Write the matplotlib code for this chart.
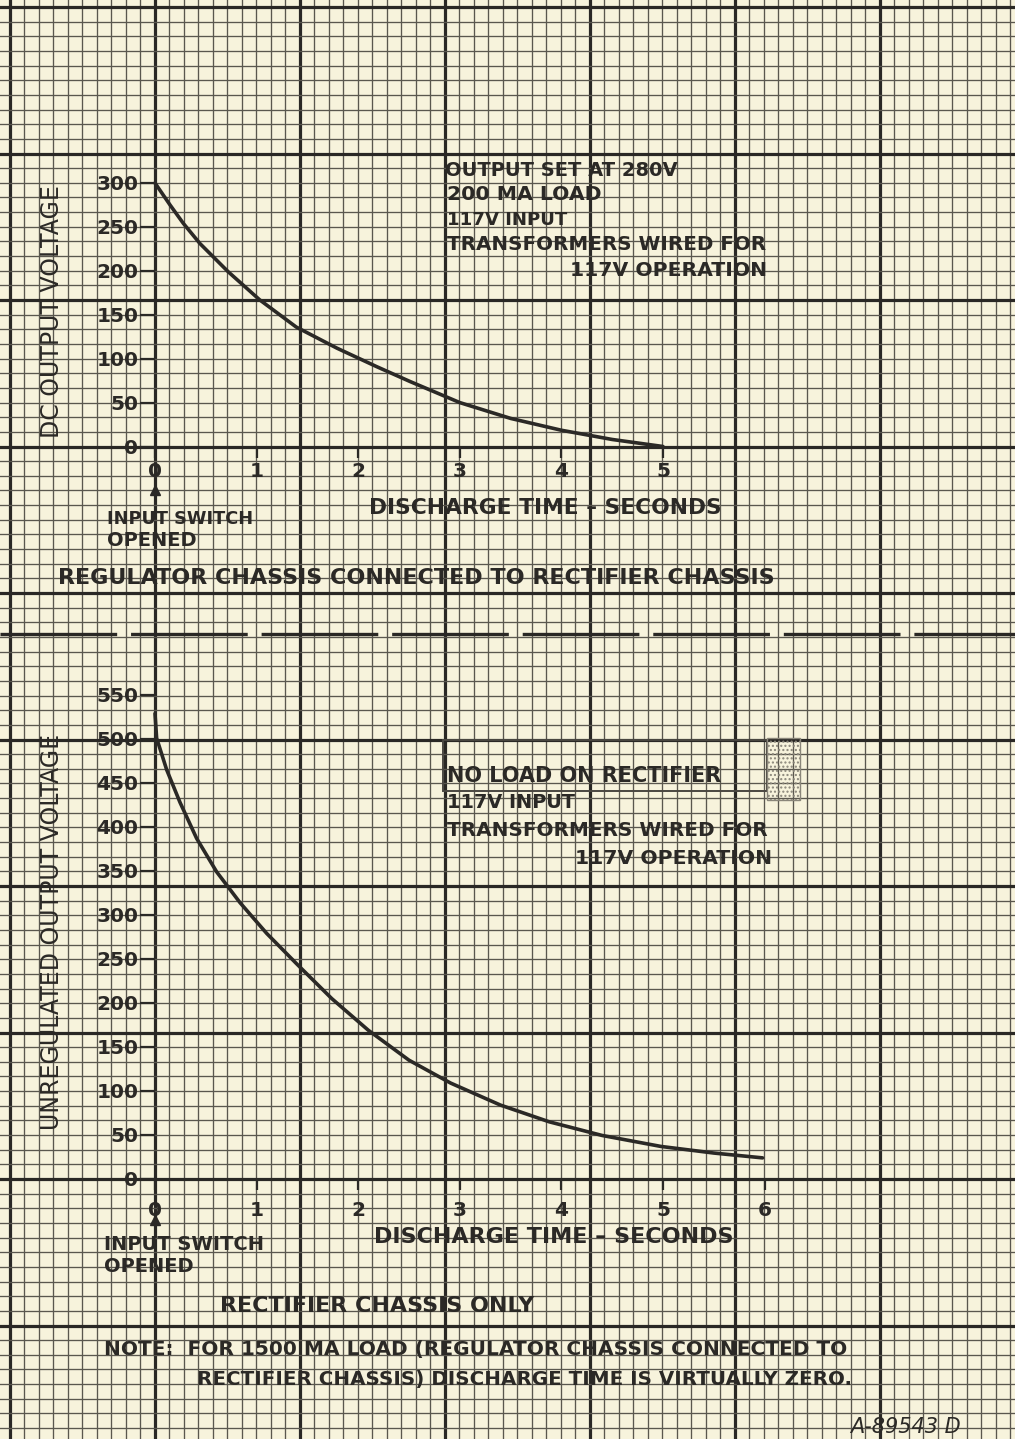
import numpy as np
import matplotlib
matplotlib.use("Agg")
import matplotlib.pyplot as plt
from matplotlib.patches import Rectangle

# ---------------- data ----------------
top_time = [0, 0.148, 0.279, 0.443, 0.72, 1.03, 1.39, 1.79, 2.18, 2.51, 3.0, 3.5, 4.0, 4.5, 5.0]
top_volts = [300, 275, 254, 231, 199, 167, 136, 112, 91, 74, 50, 32, 18.5, 8, 0]
top_xticks = [0, 1, 2, 3, 4, 5]
top_yticks = [0, 50, 100, 150, 200, 250, 300]

bot_time = [0, 0.016, 0.115, 0.246, 0.41, 0.607, 0.837, 1.10, 1.39, 1.74, 2.10,
            2.5, 2.91, 3.4, 3.88, 4.4, 4.98, 5.5, 5.98]
bot_volts = [529, 501, 465, 428, 387, 349, 314, 279, 245, 205, 169,
             135, 109, 84, 65, 49.5, 37, 29.5, 24]
bot_xticks = [0, 1, 2, 3, 4, 5, 6]
bot_yticks = [0, 50, 100, 150, 200, 250, 300, 350, 400, 450, 500, 550]

W, H = 1015, 1439
PAPER = "#f7f3dc"
INK = "#2b2926"
MINOR = "#5a574e"
MAJOR = "#2a2825"

plt.rcParams["font.family"] = ["DejaVu Sans"]
plt.rcParams["lines.scale_dashes"] = False

fig = plt.figure(figsize=(W / 100, H / 100), dpi=100)
fig.patch.set_facecolor(PAPER)

# ---------------- graph paper background ----------------
bg = fig.add_axes([0, 0, 1, 1])
bg.set_xlim(0, W)
bg.set_ylim(H, 0)
bg.axis("off")
bg.set_facecolor(PAPER)

x0, dx = 10.0, 14.5
y0, dy = 7.0, 14.65
k = 0
while x0 + k * dx <= W + 1:
    x = x0 + k * dx
    heavy = (k % 10 == 0)
    bg.axvline(x, color=MAJOR if heavy else MINOR, lw=2.3 if heavy else 0.95, zorder=1)
    k += 1
k = 0
while y0 + k * dy <= H + 1:
    y = y0 + k * dy
    heavy = (k % 10 == 0)
    bg.axhline(y, color=MAJOR if heavy else MINOR, lw=2.3 if heavy else 0.95, zorder=1)
    k += 1

# dashed separator
bg.plot([0, W], [634, 634], color=MAJOR, lw=2.4, dashes=(84, 10), zorder=2)

renderer = fig.canvas.get_renderer()


def fit_text(x, y, s, width, size=14.5, lo=13.0, hi=16.0, rotation=0,
             weight="bold", **kw):
    t = bg.text(x, y, s, fontsize=size, color=INK, va="center",
                rotation=rotation, zorder=5, fontweight=weight, **kw)
    bb = t.get_window_extent(renderer)
    meas = bb.height if rotation else bb.width
    new = min(max(size * width / meas, lo), hi)
    t.set_fontsize(new)
    return t


def fig_rect(left_px, right_px, top_px, bottom_px):
    return [left_px / W, 1 - bottom_px / H, (right_px - left_px) / W,
            (bottom_px - top_px) / H]


# ---------------- top chart ----------------
ax1 = fig.add_axes(fig_rect(155, 155 + 5 * 101.6, 183, 446.5))
ax1.set_xlim(0, 5)
ax1.set_ylim(0, 300)
ax1.plot(top_time, top_volts, color=INK, lw=2.6, solid_capstyle="round",
         solid_joinstyle="round", clip_on=False, zorder=4)
ax1.set_xticks(top_xticks)
ax1.set_yticks(top_yticks)
ax1.set_xticklabels([str(v) for v in top_xticks])
ax1.set_yticklabels([str(v) for v in top_yticks])

# ---------------- bottom chart ----------------
ax2 = fig.add_axes(fig_rect(155, 155 + 6 * 101.6, 695, 1179))
ax2.set_xlim(0, 6)
ax2.set_ylim(0, 550)
ax2.plot(bot_time, bot_volts, color=INK, lw=2.6, solid_capstyle="round",
         solid_joinstyle="round", clip_on=False, zorder=4)
ax2.set_xticks(bot_xticks)
ax2.set_yticks(bot_yticks)
ax2.set_xticklabels([str(v) for v in bot_xticks])
ax2.set_yticklabels([str(v) for v in bot_yticks])

for ax, xpad in ((ax1, 3), (ax2, 8)):
    ax.patch.set_alpha(0)
    for sp in ax.spines.values():
        sp.set_visible(False)
    ax.tick_params(axis="y", direction="out", length=11, width=1.6,
                   color=INK, labelcolor=INK, labelsize=14.5, pad=1)
    ax.tick_params(axis="x", direction="out", length=8, width=1.6,
                   color=INK, labelcolor=INK, labelsize=14.5, pad=xpad)
    for lab in ax.get_xticklabels() + ax.get_yticklabels():
        lab.set_fontweight("bold")

# arrows marking input switch opened
bg.plot([155], [490], marker="^", ms=7, color=INK, zorder=5)
bg.plot([155], [1220], marker="^", ms=7, color=INK, zorder=5)

# ---------------- y labels ----------------
fit_text(52, 312, "DC OUTPUT VOLTAGE", 261, size=16, lo=15, hi=17,
         rotation=90, ha="center", weight="normal")
fit_text(52, 932, "UNREGULATED OUTPUT VOLTAGE", 405, size=16, lo=15, hi=17,
         rotation=90, ha="center", weight="normal")

# ---------------- top annotations ----------------
fit_text(445, 170, "OUTPUT SET AT 280V", 233, ha="left")
fit_text(447, 195, "200 MA LOAD", 155, ha="left")
fit_text(447, 220, "117V INPUT", 121, ha="left")
fit_text(447, 245, "TRANSFORMERS WIRED FOR", 318, ha="left")
fit_text(570, 270, "117V OPERATION", 198, ha="left")
fit_text(369, 508, "DISCHARGE TIME – SECONDS", 353, ha="left")
fit_text(107, 519, "INPUT SWITCH", 146, lo=12.5, hi=14, ha="left")
fit_text(107, 540, "OPENED", 90, lo=12.5, hi=14, ha="left")
fit_text(58, 578, "REGULATOR CHASSIS CONNECTED TO RECTIFIER CHASSIS", 725, ha="left")

# ---------------- bottom annotations ----------------
bg.add_patch(Rectangle((443, 740), 324, 51, fill=False, ec="#4a4741", lw=1.4, zorder=3))
bg.add_patch(Rectangle((767, 738), 33, 62, fill=False, ec="#8a867a", lw=1.0,
                       hatch="....", zorder=3))
fit_text(447, 776, "NO LOAD ON RECTIFIER", 276, ha="left")
fit_text(447, 802, "117V INPUT", 128, ha="left")
fit_text(447, 830, "TRANSFORMERS WIRED FOR", 320, ha="left")
fit_text(575, 859, "117V OPERATION", 197, ha="left")
fit_text(374, 1237, "DISCHARGE TIME – SECONDS", 379, ha="left")
fit_text(104, 1245, "INPUT SWITCH", 168, lo=12.5, hi=14, ha="left")
fit_text(104, 1266, "OPENED", 96, lo=12.5, hi=14, ha="left")
fit_text(220, 1306, "RECTIFIER CHASSIS ONLY", 340, ha="left")
fit_text(104, 1349, "NOTE:  FOR 1500 MA LOAD (REGULATOR CHASSIS CONNECTED TO", 744,
         lo=12.5, ha="left")
fit_text(197, 1379, "RECTIFIER CHASSIS) DISCHARGE TIME IS VIRTUALLY ZERO.", 651,
         lo=12.5, ha="left")
fit_text(850, 1427, "A-89543 D", 143, lo=12, hi=15, ha="left", style="italic",
         weight="normal")

fig.savefig("out.png", dpi=100, facecolor=PAPER)
